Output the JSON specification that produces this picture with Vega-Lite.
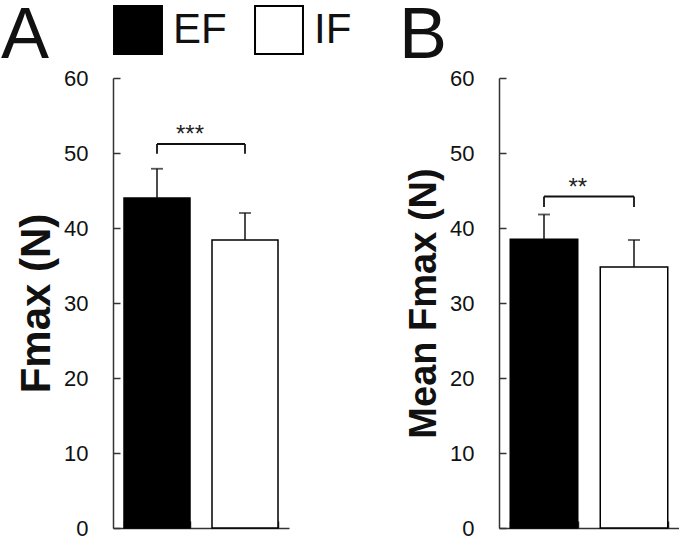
{
  "$schema": "https://vega.github.io/schema/vega-lite/v6.json",
  "padding": {"left": 1, "top": 0, "right": 0, "bottom": 0},
  "background": "white",
  "spacing": 110,
  "config": {
    "font": "Liberation Sans",
    "view": {"stroke": null},
    "axis": {"grid": false, "domainColor": "#333333", "domainWidth": 1.5, "tickColor": "#333333", "tickWidth": 1.5, "labelColor": "#111111", "labelFont": "Liberation Sans", "titleFont": "Liberation Sans", "titleColor": "#111111"},
    "legend": {"orient": "none", "legendX": 0, "legendY": -73, "direction": "horizontal", "symbolType": "square", "symbolSize": 2300, "symbolStrokeColor": "#000000", "symbolStrokeWidth": 2, "symbolOpacity": 1, "labelFontSize": 42, "labelFont": "Liberation Sans", "labelColor": "#111111", "labelOffset": 10, "columnPadding": 24, "title": null}
  },
  "datasets": {
    "barsA": [
      {"group": "EF", "value": 44.0, "upper": 47.9},
      {"group": "IF", "value": 38.4, "upper": 42.0}
    ],
    "barsB": [
      {"group": "EF", "value": 38.5, "upper": 41.8},
      {"group": "IF", "value": 34.8, "upper": 38.4}
    ],
    "bracketA": [
      {"group": "EF", "low": 49.9, "high": 51.2, "other": "IF", "stars": "***", "starY": 52.4}
    ],
    "endsA": [
      {"group": "EF", "low": 49.9, "high": 51.2},
      {"group": "IF", "low": 49.9, "high": 51.2}
    ],
    "bracketB": [
      {"group": "EF", "low": 42.8, "high": 44.2, "other": "IF", "stars": "**", "starY": 45.4}
    ],
    "endsB": [
      {"group": "EF", "low": 42.8, "high": 44.2},
      {"group": "IF", "low": 42.8, "high": 44.2}
    ]
  },
  "hconcat": [
    {
      "width": 176,
      "height": 450,
      "title": {"text": "A", "fontSize": 72, "fontWeight": "normal", "font": "Liberation Sans", "color": "#111111", "anchor": "start", "frame": "group", "dx": -112, "offset": -63, "baseline": "alphabetic"},
      "encoding": {
        "x": {"field": "group", "type": "nominal", "scale": {"domain": ["EF", "IF"], "paddingInner": 0.25, "paddingOuter": 0.125}, "axis": {"title": null, "labels": false, "tickBand": "extent", "tickSize": -7}}
      },
      "layer": [
        {
          "data": {"name": "barsA"},
          "mark": {"type": "bar", "stroke": "#000000", "strokeWidth": 1.5},
          "encoding": {
            "y": {"field": "value", "type": "quantitative", "scale": {"domain": [0, 60], "nice": false}, "axis": {"title": "Fmax (N)", "titleFontSize": 42, "titleFontWeight": "bold", "titlePadding": 5, "values": [0, 10, 20, 30, 40, 50, 60], "labelFontSize": 22, "tickSize": -7, "labelPadding": 32}},
            "color": {"field": "group", "type": "nominal", "scale": {"domain": ["EF", "IF"], "range": ["#000000", "#ffffff"]}}
          }
        },
        {
          "data": {"name": "barsA"},
          "mark": {"type": "rule", "color": "#111111", "strokeWidth": 1.5},
          "encoding": {"y": {"field": "value", "type": "quantitative"}, "y2": {"field": "upper"}}
        },
        {
          "data": {"name": "barsA"},
          "mark": {"type": "tick", "color": "#111111", "size": 12, "thickness": 1.8, "orient": "horizontal"},
          "encoding": {"y": {"field": "upper", "type": "quantitative"}}
        },
        {
          "data": {"name": "endsA"},
          "mark": {"type": "rule", "color": "#111111", "strokeWidth": 1.8},
          "encoding": {"y": {"field": "low", "type": "quantitative"}, "y2": {"field": "high"}}
        },
        {
          "data": {"name": "bracketA"},
          "mark": {"type": "rule", "color": "#111111", "strokeWidth": 1.8},
          "encoding": {"x2": {"field": "other"}, "y": {"field": "high", "type": "quantitative"}}
        },
        {
          "data": {"name": "bracketA"},
          "mark": {"type": "text", "fontSize": 24, "color": "#222222", "baseline": "middle", "align": "center"},
          "encoding": {"x": {"field": "group", "type": "nominal", "bandPosition": 1}, "y": {"field": "starY", "type": "quantitative"}, "text": {"field": "stars"}}
        }
      ]
    },
    {
      "width": 180,
      "height": 450,
      "title": {"text": "B", "fontSize": 72, "fontWeight": "normal", "font": "Liberation Sans", "color": "#111111", "anchor": "start", "frame": "group", "dx": -100, "offset": -63, "baseline": "alphabetic"},
      "encoding": {
        "x": {"field": "group", "type": "nominal", "scale": {"domain": ["EF", "IF"], "paddingInner": 0.25, "paddingOuter": 0.125}, "axis": {"title": null, "labels": false, "tickBand": "extent", "tickSize": -7}}
      },
      "layer": [
        {
          "data": {"name": "barsB"},
          "mark": {"type": "bar", "stroke": "#000000", "strokeWidth": 1.5},
          "encoding": {
            "y": {"field": "value", "type": "quantitative", "scale": {"domain": [0, 60], "nice": false}, "axis": {"title": "Mean Fmax (N)", "titleFontSize": 38, "titleFontWeight": "bold", "titlePadding": 6, "values": [0, 10, 20, 30, 40, 50, 60], "labelFontSize": 22, "tickSize": -7, "labelPadding": 32}},
            "color": {"field": "group", "type": "nominal", "scale": {"domain": ["EF", "IF"], "range": ["#000000", "#ffffff"]}}
          }
        },
        {
          "data": {"name": "barsB"},
          "mark": {"type": "rule", "color": "#111111", "strokeWidth": 1.5},
          "encoding": {"y": {"field": "value", "type": "quantitative"}, "y2": {"field": "upper"}}
        },
        {
          "data": {"name": "barsB"},
          "mark": {"type": "tick", "color": "#111111", "size": 12, "thickness": 1.8, "orient": "horizontal"},
          "encoding": {"y": {"field": "upper", "type": "quantitative"}}
        },
        {
          "data": {"name": "endsB"},
          "mark": {"type": "rule", "color": "#111111", "strokeWidth": 1.8},
          "encoding": {"y": {"field": "low", "type": "quantitative"}, "y2": {"field": "high"}}
        },
        {
          "data": {"name": "bracketB"},
          "mark": {"type": "rule", "color": "#111111", "strokeWidth": 1.8},
          "encoding": {"x2": {"field": "other"}, "y": {"field": "high", "type": "quantitative"}}
        },
        {
          "data": {"name": "bracketB"},
          "mark": {"type": "text", "fontSize": 24, "color": "#222222", "baseline": "middle", "align": "center"},
          "encoding": {"x": {"field": "group", "type": "nominal", "bandPosition": 1}, "y": {"field": "starY", "type": "quantitative"}, "text": {"field": "stars"}}
        }
      ]
    }
  ]
}
